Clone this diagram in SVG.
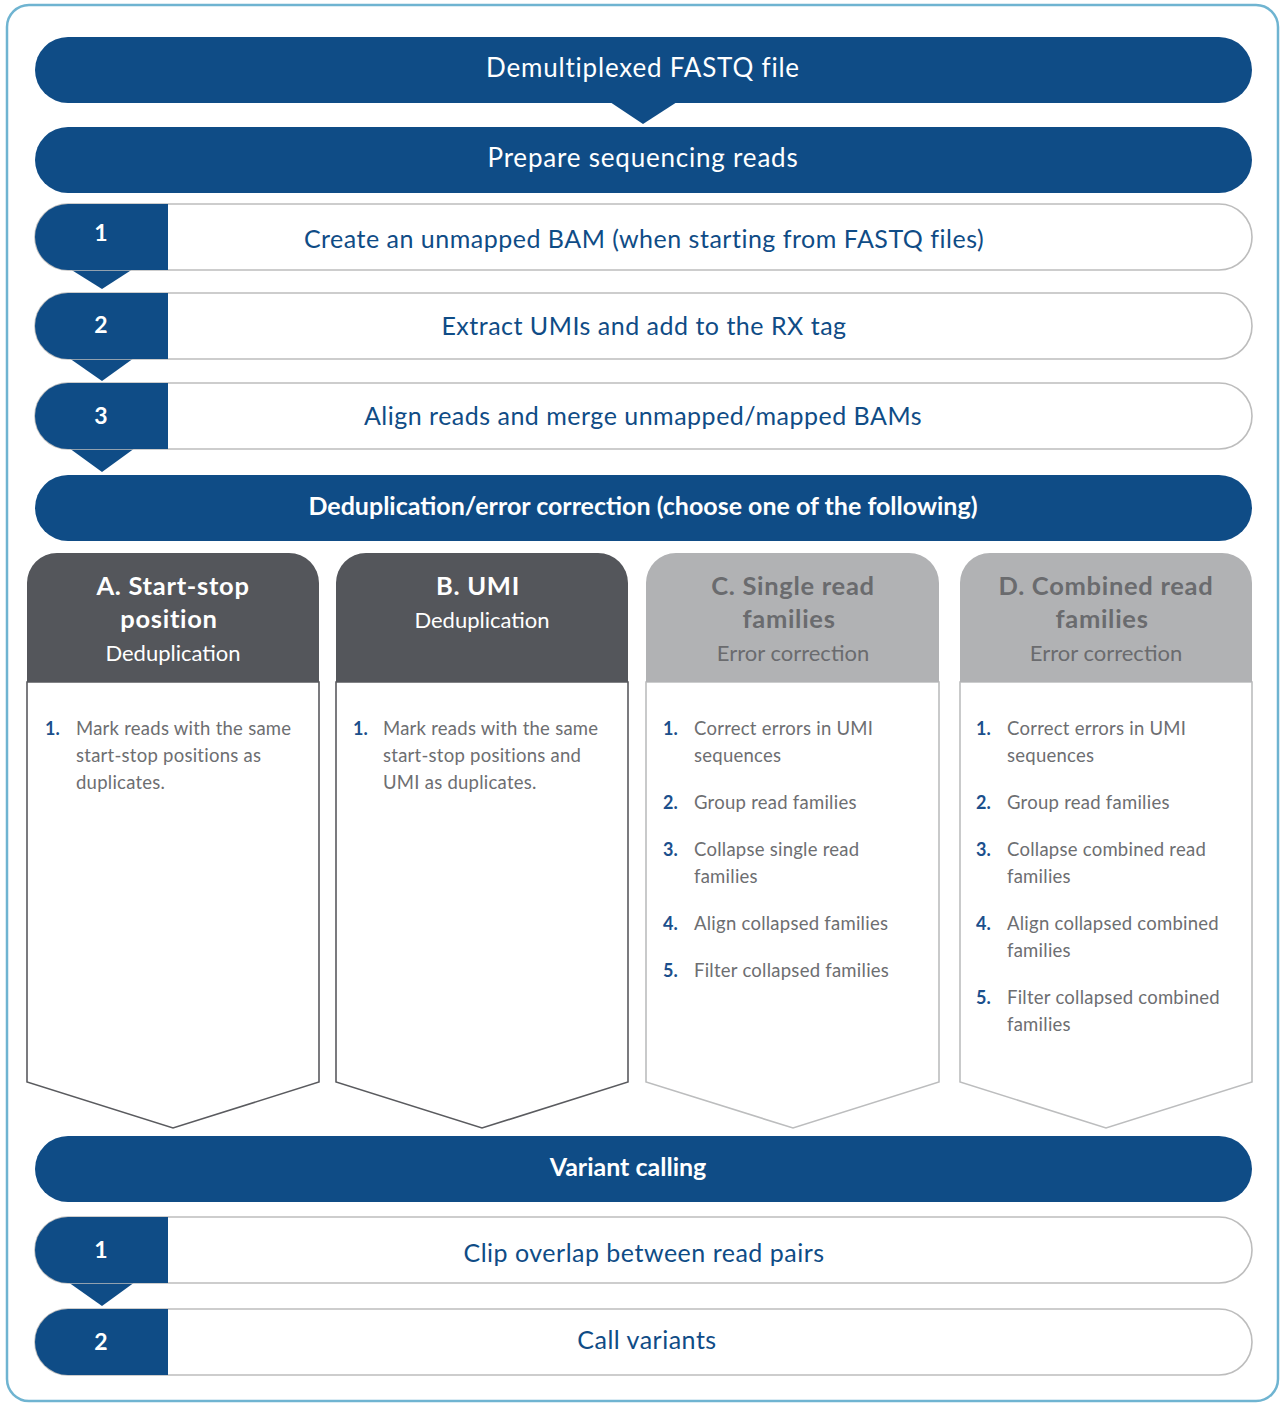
<svg xmlns="http://www.w3.org/2000/svg" width="1285" height="1403" viewBox="0 0 1285 1403">
  <defs>
    <style>
      .band { fill: #0f4c86; }
      .band-text { font-family: Lato, "Open Sans", sans-serif; font-size: 26px; letter-spacing: 0.8px; fill: #ffffff; text-anchor: middle; }
      .band-bold { font-weight: bold; font-size: 25px; letter-spacing: 0; }
      .row { fill: #ffffff; stroke: #bdbdbd; stroke-width: 1.6; }
      .tab { fill: #0f4c86; }
      .num { font-family: Lato, "Open Sans", sans-serif; font-size: 23px; font-weight: bold; fill: #ffffff; text-anchor: middle; }
      .row-text { font-family: Lato, "Open Sans", sans-serif; font-size: 25px; letter-spacing: 0.5px; fill: #0f4c86; text-anchor: middle; }
      .hd-dark { fill: #54565b; }
      .hd-light { fill: #b1b2b4; }
      .body-dark { fill: #ffffff; stroke: #5a5b5f; stroke-width: 1.6; }
      .body-light { fill: #ffffff; stroke: #bcbdbe; stroke-width: 1.6; }
      .h-title { font-family: Lato, "Open Sans", sans-serif; font-size: 25.5px; letter-spacing: 0.7px; font-weight: bold; text-anchor: middle; }
      .h-sub { font-family: Lato, "Open Sans", sans-serif; font-size: 22px; text-anchor: middle; }
      .on-dark { fill: #ffffff; }
      .on-light { fill: #6a6b6e; }
      .li-num { font-family: Lato, "Open Sans", sans-serif; font-size: 18px; font-weight: bold; fill: #1b4f8c; }
      .li { font-family: Lato, "Open Sans", sans-serif; font-size: 18.5px; letter-spacing: 0.25px; fill: #6d6e71; }
      .notch { fill: #0f4c86; }
    </style>
  </defs>

  <!-- outer frame -->
  <rect x="7" y="5" width="1271" height="1396" rx="22" fill="#ffffff" stroke="#6fb4d1" stroke-width="2.5"/>

  <!-- connectors: downward notches between stages -->
  <g id="connectors">
    <polygon class="notch" points="610,102 677,102 643,124"/>
    <polygon class="notch" points="70,269 133,269 102,289"/>
    <polygon class="notch" points="69,358 134,358 102,381"/>
    <polygon class="notch" points="69,448 135,448 102,472"/>
    <polygon class="notch" points="68,1282 135,1282 102,1306"/>
  </g>

  <g id="fastq">
    <rect class="band" x="35" y="37" width="1217" height="66" rx="33"/>
    <text class="band-text" x="643" y="77">Demultiplexed FASTQ file</text>
  </g>

  <g id="prepare">
    <rect class="band" x="35" y="127" width="1217" height="66" rx="33"/>
    <text class="band-text" x="643" y="167">Prepare sequencing reads</text>
  </g>

  <g id="step-unmapped-bam">
    <rect class="row" x="35" y="204" width="1217" height="66" rx="33"/>
    <path class="tab" d="M168 204 H68 A33 33 0 0 0 68 270 H168 Z"/>
    <text class="num" x="101" y="241">1</text>
    <text class="row-text" x="644" y="248">Create an unmapped BAM (when starting from FASTQ files)</text>
  </g>

  <g id="step-extract-umis">
    <rect class="row" x="35" y="293" width="1217" height="66" rx="33"/>
    <path class="tab" d="M168 293 H68 A33 33 0 0 0 68 359 H168 Z"/>
    <text class="num" x="101" y="333">2</text>
    <text class="row-text" x="644" y="335">Extract UMIs and add to the RX tag</text>
  </g>

  <g id="step-align">
    <rect class="row" x="35" y="383" width="1217" height="66" rx="33"/>
    <path class="tab" d="M168 383 H68 A33 33 0 0 0 68 449 H168 Z"/>
    <text class="num" x="101" y="424">3</text>
    <text class="row-text" x="643" y="425">Align reads and merge unmapped/mapped BAMs</text>
  </g>

  <g id="dedup">
    <rect class="band" x="35" y="475" width="1217" height="66" rx="33"/>
    <text class="band-text band-bold" x="643" y="515">Deduplication/error correction (choose one of the following)</text>
  </g>

  <!-- option A -->
  <g id="option-a">
    <path class="body-dark" d="M27 682 V1082 L173 1128 L319 1082 V682 Z"/>
    <path class="hd-dark" d="M27 682 V583 A30 30 0 0 1 57 553 H289 A30 30 0 0 1 319 583 V682 Z"/>
    <text class="h-title on-dark" x="173" y="595">A. Start-stop</text>
    <text class="h-title on-dark" x="169" y="628">position</text>
    <text class="h-sub on-dark" x="173" y="661">Deduplication</text>
    <text class="li-num" x="45" y="735">1.</text>
    <text class="li" x="76" y="735">Mark reads with the same</text>
    <text class="li" x="76" y="762">start-stop positions as</text>
    <text class="li" x="76" y="789">duplicates.</text>
  </g>

  <!-- option B -->
  <g id="option-b">
    <path class="body-dark" d="M336 682 V1082 L482 1128 L628 1082 V682 Z"/>
    <path class="hd-dark" d="M336 682 V583 A30 30 0 0 1 366 553 H598 A30 30 0 0 1 628 583 V682 Z"/>
    <text class="h-title on-dark" x="478" y="595">B. UMI</text>
    <text class="h-sub on-dark" x="482" y="628">Deduplication</text>
    <text class="li-num" x="353" y="735">1.</text>
    <text class="li" x="383" y="735">Mark reads with the same</text>
    <text class="li" x="383" y="762">start-stop positions and</text>
    <text class="li" x="383" y="789">UMI as duplicates.</text>
  </g>

  <!-- option C -->
  <g id="option-c">
    <path class="body-light" d="M646 682 V1082 L793 1128 L939 1082 V682 Z"/>
    <path class="hd-light" d="M646 682 V583 A30 30 0 0 1 676 553 H909 A30 30 0 0 1 939 583 V682 Z"/>
    <text class="h-title on-light" x="793" y="595">C. Single read</text>
    <text class="h-title on-light" x="789" y="628">families</text>
    <text class="h-sub on-light" x="793" y="661">Error correction</text>
    <text class="li-num" x="663" y="735">1.</text>
    <text class="li" x="694" y="735">Correct errors in UMI</text>
    <text class="li" x="694" y="762">sequences</text>
    <text class="li-num" x="663" y="809">2.</text>
    <text class="li" x="694" y="809">Group read families</text>
    <text class="li-num" x="663" y="856">3.</text>
    <text class="li" x="694" y="856">Collapse single read</text>
    <text class="li" x="694" y="883">families</text>
    <text class="li-num" x="663" y="930">4.</text>
    <text class="li" x="694" y="930">Align collapsed families</text>
    <text class="li-num" x="663" y="977">5.</text>
    <text class="li" x="694" y="977">Filter collapsed families</text>
  </g>

  <!-- option D -->
  <g id="option-d">
    <path class="body-light" d="M960 682 V1082 L1106 1128 L1252 1082 V682 Z"/>
    <path class="hd-light" d="M960 682 V583 A30 30 0 0 1 990 553 H1222 A30 30 0 0 1 1252 583 V682 Z"/>
    <text class="h-title on-light" x="1106" y="595">D. Combined read</text>
    <text class="h-title on-light" x="1102" y="628">families</text>
    <text class="h-sub on-light" x="1106" y="661">Error correction</text>
    <text class="li-num" x="976" y="735">1.</text>
    <text class="li" x="1007" y="735">Correct errors in UMI</text>
    <text class="li" x="1007" y="762">sequences</text>
    <text class="li-num" x="976" y="809">2.</text>
    <text class="li" x="1007" y="809">Group read families</text>
    <text class="li-num" x="976" y="856">3.</text>
    <text class="li" x="1007" y="856">Collapse combined read</text>
    <text class="li" x="1007" y="883">families</text>
    <text class="li-num" x="976" y="930">4.</text>
    <text class="li" x="1007" y="930">Align collapsed combined</text>
    <text class="li" x="1007" y="957">families</text>
    <text class="li-num" x="976" y="1004">5.</text>
    <text class="li" x="1007" y="1004">Filter collapsed combined</text>
    <text class="li" x="1007" y="1031">families</text>
  </g>

  <g id="variant-calling">
    <rect class="band" x="35" y="1136" width="1217" height="66" rx="33"/>
    <text class="band-text band-bold" x="628" y="1176">Variant calling</text>
  </g>

  <g id="step-clip-overlap">
    <rect class="row" x="35" y="1217" width="1217" height="66" rx="33"/>
    <path class="tab" d="M168 1217 H68 A33 33 0 0 0 68 1283 H168 Z"/>
    <text class="num" x="101" y="1258">1</text>
    <text class="row-text" x="644" y="1262">Clip overlap between read pairs</text>
  </g>

  <g id="step-call-variants">
    <rect class="row" x="35" y="1309" width="1217" height="66" rx="33"/>
    <path class="tab" d="M168 1309 H68 A33 33 0 0 0 68 1375 H168 Z"/>
    <text class="num" x="101" y="1350">2</text>
    <text class="row-text" x="647" y="1349">Call variants</text>
  </g>
</svg>
